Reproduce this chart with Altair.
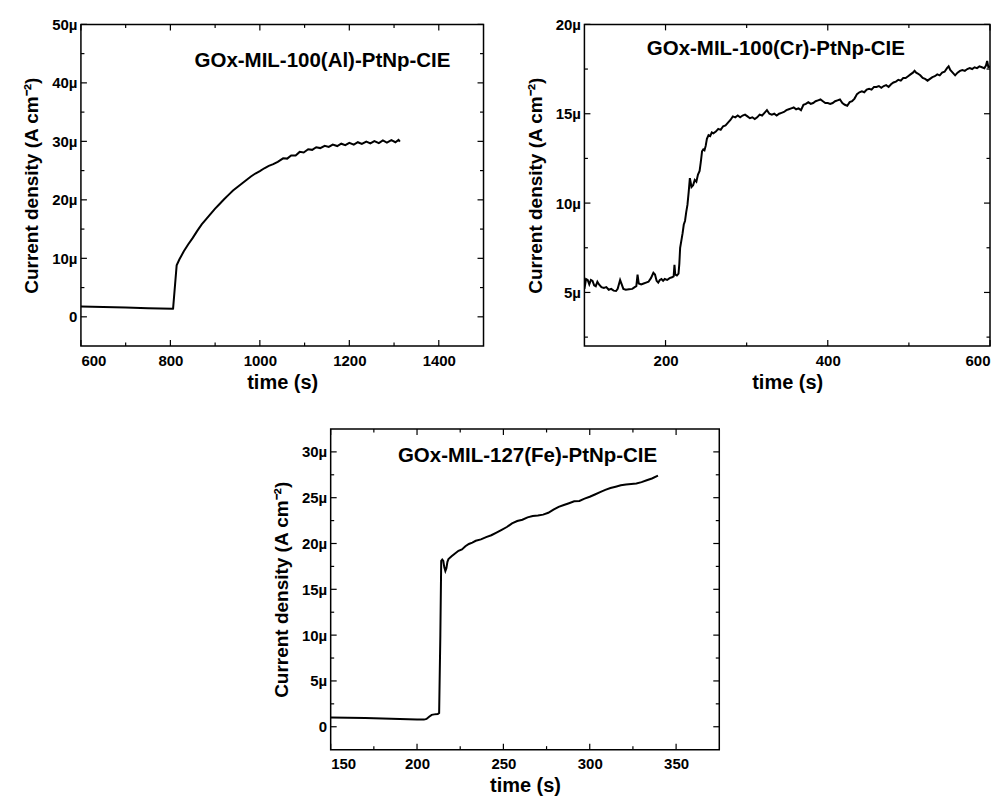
import altair as alt
import pandas as pd

# ---------------- data (values in µA cm^-2) ----------------
al_t = [600, 650, 700, 750, 805, 806, 814, 820, 830, 840, 850, 860, 870, 880, 890, 900,
        910, 920, 930, 940, 950, 960, 970, 980, 990, 1000, 1010, 1020, 1030, 1040, 1052,
        1061, 1070, 1080, 1089, 1098, 1108, 1117, 1126, 1135, 1145, 1154, 1163, 1173, 1182,
        1191, 1200, 1210, 1219, 1228, 1238, 1247, 1256, 1266, 1275, 1284, 1294, 1303, 1310, 1313]
al_v = [1.77, 1.68, 1.58, 1.48, 1.38, 1.40, 8.8, 9.8, 11.2, 12.4, 13.5, 14.7, 15.8, 16.7, 17.6, 18.5,
        19.3, 20.1, 20.85, 21.6, 22.2, 22.8, 23.4, 24.0, 24.5, 24.9, 25.4, 25.8, 26.1, 26.5, 27.1,
        27.05, 27.6, 27.6, 28.2, 28.1, 28.65, 28.55, 29.0, 28.85, 29.25, 29.05, 29.45, 29.2, 29.6,
        29.35, 29.75, 29.45, 29.85, 29.55, 29.95, 29.65, 30.05, 29.7, 30.15, 29.8, 30.2, 29.85, 30.25, 29.95]

cr_t = [100, 102, 104, 106, 108, 110, 112, 114, 116, 118, 121, 124, 127, 130, 133, 136, 139, 141,
        144, 146, 148, 151, 155, 159, 162, 164, 165.5, 167, 170, 173, 176, 179, 182, 185, 187, 189,
        191, 193, 195, 197, 199, 202, 205, 208, 210, 211, 212, 214, 216, 217, 218, 219.5, 221, 222.5,
        224, 225.5, 227, 228.5, 230, 231, 232, 234, 236, 238, 240, 242, 243.5, 245, 246.5, 248, 249.5,
        251, 253, 255, 257, 259, 262, 265, 268, 271, 274, 277, 280, 283, 286, 289, 292, 295, 298, 301,
        304, 307, 310, 313, 316, 319, 322, 325, 328, 331, 334, 337, 340, 343, 346, 349, 352, 355, 358,
        361, 364, 367, 370, 373, 376, 379, 382, 385, 388, 391, 394, 397, 400, 403, 406, 409, 412, 415,
        418, 421, 424, 427, 430, 433, 436, 439, 442, 445, 448, 451, 454, 457, 460, 463, 466, 469, 472,
        475, 478, 481, 484, 487, 490, 493, 496, 499, 502, 505, 507, 509, 511, 514, 517, 520, 523, 526,
        529, 532, 535, 538, 541, 544, 547, 549, 551, 554, 557, 560, 563, 566, 569, 572, 575, 578, 581,
        584, 587, 590, 593, 595, 596.5, 598, 600]
cr_v = [5.2, 5.75, 5.7, 5.45, 5.7, 5.65, 5.4, 5.35, 5.6, 5.45, 5.3, 5.25, 5.3, 5.15, 5.2, 5.1, 5.08, 5.2,
        5.7, 5.45, 5.2, 5.15, 5.18, 5.2, 5.3, 5.35, 6.0, 5.5, 5.45, 5.5, 5.55, 5.6, 5.8, 6.1, 6.0, 5.65,
        5.55, 5.7, 5.75, 5.65, 5.75, 5.7, 5.8, 5.85, 5.9, 6.55, 6.0, 5.95, 6.05, 6.6, 7.5, 7.9, 8.3, 8.8,
        9.0, 9.5, 9.9, 10.6, 11.4, 11.15, 10.9, 11.0, 11.3, 11.2, 11.6, 11.8, 12.3, 12.9, 13.0, 12.95, 13.2,
        13.6, 13.8, 13.75, 13.95, 13.9, 14.0, 14.15, 14.1, 14.3, 14.35, 14.5, 14.65, 14.85, 14.8, 14.9, 14.8,
        14.9, 14.95, 14.85, 14.75, 14.8, 14.7, 14.8, 14.95, 14.9, 15.05, 15.2, 15.0, 14.95, 15.0, 14.9, 15.0,
        15.05, 15.1, 15.2, 15.25, 15.3, 15.35, 15.25, 15.3, 15.2, 15.5, 15.55, 15.65, 15.55, 15.6, 15.7,
        15.75, 15.8, 15.7, 15.6, 15.6, 15.55, 15.6, 15.7, 15.75, 15.8, 15.6, 15.5, 15.45, 15.65, 15.7, 15.85,
        16.1, 16.2, 16.25, 16.2, 16.35, 16.4, 16.35, 16.5, 16.5, 16.55, 16.45, 16.55, 16.6, 16.5, 16.65,
        16.75, 16.8, 16.9, 16.85, 17.0, 17.0, 17.1, 17.2, 17.3, 17.4, 17.3, 17.25, 17.15, 17.0, 16.95, 16.85,
        16.95, 17.05, 17.1, 17.2, 17.15, 17.3, 17.35, 17.55, 17.65, 17.45, 17.3, 17.15, 17.3, 17.4, 17.45,
        17.4, 17.5, 17.55, 17.5, 17.6, 17.55, 17.65, 17.6, 17.55, 17.7, 17.95, 17.6, 17.65]

fe_t = [150, 160, 170, 180, 190, 200, 204, 205.5, 207, 208.5, 210, 212, 212.8, 213.5, 214, 214.6,
        215.2, 215.8, 216.4, 217, 217.6, 218.2, 220, 222, 224, 226, 228, 230, 232, 234, 237, 240, 243,
        246, 249, 252, 255, 258, 261, 264, 267, 270, 273, 276, 279, 282, 285, 288, 291, 294, 297, 300,
        303, 306, 309, 312, 315, 318, 321, 324, 327, 330, 333, 336, 339.5]
fe_v = [1.02, 0.98, 0.95, 0.9, 0.85, 0.8, 0.78, 0.85, 1.1, 1.3, 1.35, 1.38, 1.5, 10.0, 18.1, 18.25,
        18.1, 17.4, 17.0, 17.3, 18.0, 18.3, 18.6, 18.9, 19.2, 19.35, 19.7, 19.95, 20.1, 20.3, 20.45, 20.7,
        20.9, 21.2, 21.5, 21.8, 22.2, 22.45, 22.6, 22.85, 23.0, 23.05, 23.15, 23.35, 23.7, 24.0, 24.2, 24.4,
        24.6, 24.65, 24.9, 25.1, 25.35, 25.6, 25.85, 26.05, 26.2, 26.35, 26.45, 26.5, 26.55, 26.7, 26.9,
        27.1, 27.4]

labels = ["GOx-MIL-100(Al)-PtNp-CIE", "GOx-MIL-100(Cr)-PtNp-CIE", "GOx-MIL-127(Fe)-PtNp-CIE"]

FONT = "Liberation Sans"
Y_TITLE = "Current density (A cm\u207b\u00b2)"
MAJOR, MINOR = 6, 3.5


def panel(t, v, label, lab_xy, xdom, ydom, xmaj, xmin, ymaj, ymin, W, H):
    df = pd.DataFrame({"t": t, "v": v})
    xs = alt.Scale(domain=xdom, nice=False, zero=False)
    ys = alt.Scale(domain=ydom, nice=False, zero=False)
    xa = alt.Axis(values=xmaj, ticks=False, domain=False, grid=False, title="time (s)",
                  format="d", labelPadding=7, titlePadding=4, titleFontSize=20)
    ya = alt.Axis(values=ymaj, ticks=False, domain=False, grid=False, title=Y_TITLE,
                  labelPadding=4, titlePadding=10,
                  labelExpr="datum.value == 0 ? '0' : datum.value + 'µ'")
    X = lambda: alt.X("t:Q", scale=xs, axis=xa, title="time (s)")
    Y = lambda: alt.Y("v:Q", scale=ys, axis=ya, title=Y_TITLE)
    main = alt.Chart(df).mark_line(color="black", strokeWidth=2, clip=True).encode(x=X(), y=Y())
    layers = [main]
    # inward ticks on all four sides, positioned through the scales
    for vals_x, vals_y, L in [(xmaj, ymaj, MAJOR), (xmin, ymin, MINOR)]:
        dx = pd.DataFrame({"t": vals_x})
        dy = pd.DataFrame({"v": vals_y})
        for y0, y1 in [(H, H - L), (0, L)]:
            layers.append(alt.Chart(dx).mark_rule(color="black", strokeWidth=1.2).encode(
                x=X(), y=alt.value(y0), y2=alt.value(y1)))
        for x0, x1 in [(0, L), (W, W - L)]:
            layers.append(alt.Chart(dy).mark_rule(color="black", strokeWidth=1.2).encode(
                y=Y(), x=alt.value(x0), x2=alt.value(x1)))
    lab_df = pd.DataFrame({"t": [lab_xy[0]], "v": [lab_xy[1]], "txt": [label]})
    layers.append(alt.Chart(lab_df).mark_text(font=FONT, fontWeight="bold", fontSize=20.5,
                                              color="black", align="center", baseline="middle").encode(
        x=X(), y=Y(), text="txt:N"))
    return alt.layer(*layers).properties(width=W, height=H)


p1 = panel(al_t, al_v, labels[0], (1140, 43.8), [600, 1500], [-5, 50],
           [600, 800, 1000, 1200, 1400], [700, 900, 1100, 1300],
           [0, 10, 20, 30, 40, 50], [5, 15, 25, 35, 45], 403, 322)
p2 = panel(cr_t, cr_v, labels[1], (336, 18.6), [100, 600], [2, 20],
           [200, 400, 600], [300, 500],
           [5, 10, 15, 20], [2.5, 7.5, 12.5, 17.5], 406, 322)
p3 = panel(fe_t, fe_v, labels[2], (264, 29.55), [150, 375], [-2.5, 32.5],
           [150, 200, 250, 300, 350], [175, 225, 275, 325],
           [0, 5, 10, 15, 20, 25, 30], [2.5, 7.5, 12.5, 17.5, 22.5, 27.5], 389, 321)

spacer = alt.Chart(pd.DataFrame({"t": [0]})).mark_point(opacity=0).encode(
    x=alt.X("t:Q", axis=None), y=alt.Y("t:Q", axis=None)
).properties(width=189, height=10, view=alt.ViewBackground(stroke="transparent"))

top = alt.hconcat(p1, p2, spacing=39)
bottom = alt.hconcat(spacer, p3, spacing=0)
chart = alt.vconcat(top, bottom, spacing=34).properties(
    padding={"left": 13, "top": 8, "right": 5, "bottom": 5}
).configure_view(
    stroke="black", strokeWidth=1.5
).configure_axis(
    labelFont=FONT, labelFontWeight="bold", labelFontSize=15, labelColor="black",
    titleFont=FONT, titleFontWeight="bold", titleFontSize=19, titleColor="black"
)

chart.save("out.html", embed_options={"renderer": "svg", "actions": False})
